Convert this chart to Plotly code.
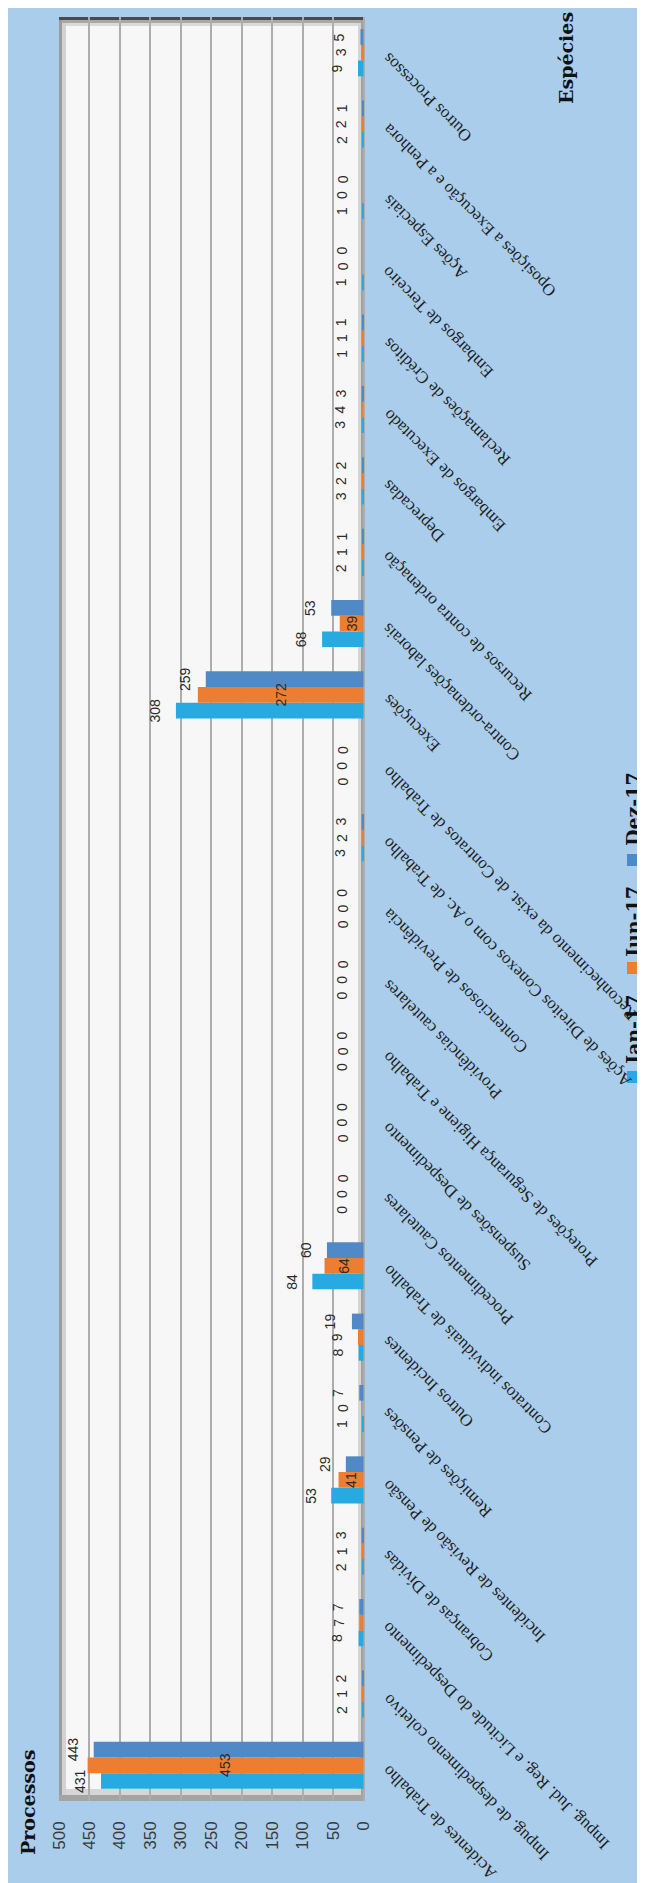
import plotly.graph_objects as go

# Categories listed bottom -> top (chart is rotated 90° CCW)
categories = [
    "Acidentes de Trabalho",
    "Impug. de despedimento coletivo",
    "Impug. Jud. Reg. e Licitude do Despedimento",
    "Cobranças de Dívidas",
    "Incidentes de Revisão de Pensão",
    "Remições de Pensões",
    "Outros Incidentes",
    "Contratos individuais de Trabalho",
    "Procedimentos Cautelares",
    "Suspensões de Despedimento",
    "Proteções de Segurança Higiene e Trabalho",
    "Providências cautelares",
    "Contenciosos de Previdência",
    "Ações de Direitos Conexos com o Ac. de Trabalho",
    "Reconhecimento da exist. de Contratos de Trabalho",
    "Execuções",
    "Contra-ordenações laborais",
    "Recursos de contra ordenação",
    "Deprecadas",
    "Embargos de Executado",
    "Reclamações de Créditos",
    "Embargos de Terceiro",
    "Ações Especiais",
    "Oposições a Execução e a Penhora",
    "Outros Processos",
]
jan17 = [431, 2, 8, 2, 53, 1, 8, 84, 0, 0, 0, 0, 0, 3, 0, 308, 68, 2, 3, 3, 1, 1, 1, 2, 9]
jun17 = [453, 1, 7, 1, 41, 0, 9, 64, 0, 0, 0, 0, 0, 2, 0, 272, 39, 1, 2, 4, 1, 0, 0, 2, 3]
dez17 = [443, 2, 7, 3, 29, 7, 19, 60, 0, 0, 0, 0, 0, 3, 0, 259, 53, 1, 2, 3, 1, 0, 0, 1, 5]
series_names = ["Jan-17", "Jun-17", "Dez-17"]
x_ticks = list(range(0, 501, 50))

COLORS = ["#27A9E1", "#ED7D31", "#4F8AC6"]
BG = "#A9CDEB"
W, H = 645, 1883
L, R, T, B = 51, 288, 9, 90
PW, PH = W - L - R, H - T - B
BARGAP = 0.34
OFF = (1 - BARGAP) / 3

def fx(px):
    return (px - L) / PW

def fy(py):
    return (H - B - py) / PH

idx = list(range(len(categories)))
fig = go.Figure()
for name, vals, col in zip(series_names, [jan17, jun17, dez17], COLORS):
    fig.add_trace(go.Bar(orientation="h", x=vals, y=idx, name=name,
                         marker=dict(color=col, line=dict(width=0)),
                         hoverinfo="x+name"))

annotations = []
# data labels
for s, vals in enumerate([jan17, jun17, dez17]):
    dy = (s - 1) * OFF
    for i, v in enumerate(vals):
        if s == 1 and v >= 30:
            annotations.append(dict(x=v / 2, y=i + dy, xref="x", yref="y", text=str(v),
                                    showarrow=False, textangle=-90, xanchor="center",
                                    font=dict(family="Liberation Sans", size=14, color="#2b2b2b")))
        else:
            annotations.append(dict(x=v, y=i + dy, xref="x", yref="y", text=str(v),
                                    showarrow=False, textangle=-90, xanchor="right", xshift=-11,
                                    font=dict(family="Liberation Sans", size=14, color="#2b2b2b")))

# category labels
for i, c in enumerate(categories):
    annotations.append(dict(x=1, y=i, xref="paper", yref="y", text=c, showarrow=False,
                            textangle=-135, xanchor="left", yanchor="top", xshift=11, yshift=7,
                            font=dict(family="Liberation Serif", size=17, color="#1e1e1e")))

# axis titles
annotations.append(dict(x=fx(20), y=fy(1795), xref="paper", yref="paper", text="<b>Processos</b>",
                        showarrow=False, textangle=-90, xanchor="center", yanchor="middle",
                        font=dict(family="DejaVu Serif", size=19, color="#111")))
annotations.append(dict(x=fx(558), y=fy(50), xref="paper", yref="paper", text="<b>Espécies</b>",
                        showarrow=False, textangle=-90, xanchor="center", yanchor="middle",
                        font=dict(family="DejaVu Serif", size=19, color="#111")))

shapes = []
# legend (rotated)
leg_text_y = [1023, 915, 801]
leg_sq_y = [1069, 960, 852]
for name, col, ty, sy in zip(series_names, COLORS, leg_text_y, leg_sq_y):
    annotations.append(dict(x=fx(625), y=fy(ty), xref="paper", yref="paper",
                            text="<b>" + name + "</b>", showarrow=False, textangle=-90,
                            xanchor="center", yanchor="middle",
                            font=dict(family="DejaVu Serif", size=19, color="#111")))
    shapes.append(dict(type="rect", xref="paper", yref="paper",
                       x0=fx(619), x1=fx(631), y0=fy(sy + 6), y1=fy(sy - 6),
                       fillcolor=col, line=dict(width=0)))

# bevelled frame around plot area
def band(x0, x1, y0, y1, color):
    shapes.append(dict(type="rect", xref="paper", yref="paper", layer="between",
                       x0=fx(x0), x1=fx(x1), y0=fy(y1), y1=fy(y0),
                       fillcolor=color, line=dict(width=0)))

band(51, 54, 9, 1793, "#9C9C9C")
band(54, 58, 12, 1789, "#D2D2D2")
band(350, 353, 12, 1789, "#D4D4D4")
band(353, 357, 9, 1793, "#A2A2A2")
band(51, 357, 9, 12, "#4A4A4A")
band(54, 353, 12, 15, "#A8A8A8")
band(58, 350, 15, 18, "#DADADA")
band(58, 350, 1781, 1787, "#D6D6D6")
band(51, 357, 1787, 1793, "#A4A4A4")
# bottom strip of the page
shapes.append(dict(type="rect", xref="paper", yref="paper", x0=fx(0), x1=fx(645),
                   y0=fy(1883), y1=fy(1879), fillcolor="#8FB6DB", line=dict(width=0)))

fig.update_layout(
    width=W, height=H, margin=dict(l=L, r=R, t=T, b=B),
    paper_bgcolor=BG, plot_bgcolor="#F7F7F7",
    barmode="group", bargap=BARGAP, showlegend=False,
    annotations=annotations, shapes=shapes,
    xaxis=dict(range=[500, -2.46], tickvals=x_ticks, tickangle=-90,
               tickfont=dict(family="Liberation Sans", size=17, color="#3a3a3a"),
               showgrid=True, gridcolor="#ADADAD", gridwidth=1.5, zeroline=False,
               showline=False, ticks="", ticklabelstandoff=16),
    yaxis=dict(range=[-0.5, len(categories) - 0.5], showticklabels=False, showgrid=False,
               zeroline=False, showline=False),
)

fig.write_html("out.html")
